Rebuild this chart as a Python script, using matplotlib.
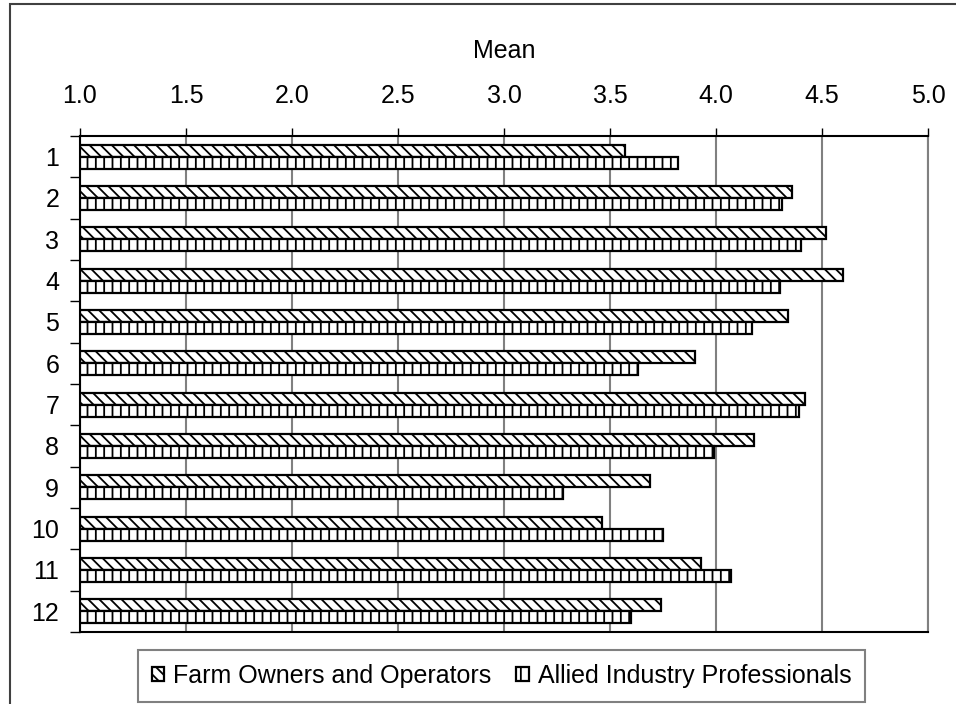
import numpy as np
import matplotlib
matplotlib.use('Agg')
from matplotlib import pyplot as plt
from matplotlib.patches import Rectangle

# data
items = ['1', '2', '3', '4', '5', '6', '7', '8', '9', '10', '11', '12']
farm = [3.57, 4.36, 4.52, 4.60, 4.34, 3.90, 4.42, 4.18, 3.69, 3.46, 3.93, 3.74]
allied = [3.82, 4.31, 4.40, 4.30, 4.17, 3.63, 4.39, 3.99, 3.28, 3.75, 4.07, 3.60]
series_names = ['Farm Owners and Operators', 'Allied Industry Professionals']
xticks = [1.0, 1.5, 2.0, 2.5, 3.0, 3.5, 4.0, 4.5, 5.0]

plt.rcParams['font.family'] = ['Liberation Sans', 'DejaVu Sans']
plt.rcParams['hatch.linewidth'] = 1.3
plt.rcParams['hatch.color'] = 'black'

fig = plt.figure(figsize=(9.56, 7.04), dpi=100)
ax = fig.add_axes([80/956, 1 - 632/704, (928 - 80)/956, (632 - 136)/704])

y = np.arange(len(items))
h = 0.29
base = 1.0
ax.barh(y - h/2, np.array(farm) - base, left=base, height=h,
        color='white', edgecolor='black', linewidth=1.6, hatch='\\\\\\',
        label=series_names[0], zorder=3)
ax.barh(y + h/2, np.array(allied) - base, left=base, height=h,
        color='white', edgecolor='black', linewidth=1.6, hatch='||',
        label=series_names[1], zorder=3)

ax.set_xlim(1.0, 5.0)
ax.set_ylim(len(items) - 0.5, -0.5)

fs = 18
ax.set_xticks(xticks)
ax.set_xticklabels(['%.1f' % v for v in xticks])
ax.xaxis.tick_top()
ax.xaxis.set_label_position('top')
ax.tick_params(axis='x', direction='out', length=6, width=1, pad=14,
               labelsize=fs, color='black')
ax.set_xlabel('Mean', fontsize=fs, labelpad=19)

ax.set_yticks(y)
ax.set_yticklabels(items)
ax.set_yticks(np.arange(len(items) + 1) - 0.5, minor=True)
ax.tick_params(axis='y', which='major', length=0, pad=15, labelsize=fs)
ax.tick_params(axis='y', which='minor', direction='out', length=7, width=1,
               color='black')

ax.grid(axis='x', color='#808080', linewidth=1.5, zorder=0)
ax.set_axisbelow(True)
for side in ['top', 'left', 'bottom']:
    ax.spines[side].set_color('black')
    ax.spines[side].set_linewidth(1.5)
ax.spines['right'].set_color('#808080')
ax.spines['right'].set_linewidth(1.5)

leg = fig.legend(loc='center', bbox_to_anchor=(501.5/956, 1 - 676/704),
                 ncol=2, fontsize=fs, frameon=True, fancybox=False,
                 handlelength=0.5, handleheight=0.5, handletextpad=0.35,
                 columnspacing=1.0, borderpad=0.55, borderaxespad=0)
leg.get_frame().set_edgecolor('#606060')
leg.get_frame().set_linewidth(1.5)

# outer chart border (only the left and top edges fall inside the picture)
fig.patches.append(Rectangle((10/956, -0.1), 1.2, 1 - 4/704 + 0.1,
                             transform=fig.transFigure, fill=False,
                             edgecolor='#404040', linewidth=1.5))

fig.savefig('out.png', dpi=100)
